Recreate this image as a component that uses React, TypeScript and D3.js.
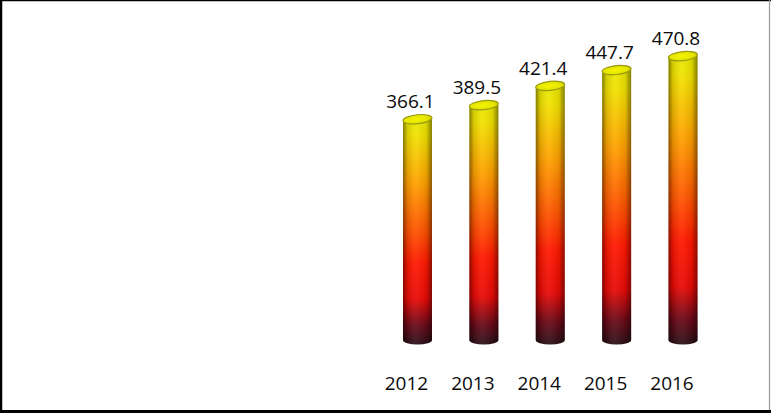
import React from "react";
import * as d3 from "d3";

const years = ["2012", "2013", "2014", "2015", "2016"];
const values = [366.1, 389.5, 421.4, 447.7, 470.8];

const W = 771;
const H = 413;

export default function App() {
  const x = d3.scalePoint<string>().domain(years).range([384.3, 716.2]).padding(0.5);
  const y = d3.scaleLinear().domain([0, 500]).range([340, 38.5]);
  const bw = 29;
  const ry = 4.5;
  const font = "'Open Sans', 'Noto Sans', sans-serif";
  return (
    <svg width={W} height={H} style={{ position: "fixed", left: 0, top: 0, background: "#fff" }}>
      <defs>
        <linearGradient id="vg" x1="0" y1="0" x2="0" y2="1">
          <stop offset="0" stopColor="#e8e800" />
          <stop offset="0.07" stopColor="#f2e200" />
          <stop offset="0.28" stopColor="#ffa200" />
          <stop offset="0.5" stopColor="#ff5200" />
          <stop offset="0.64" stopColor="#ff1800" />
          <stop offset="0.8" stopColor="#e80a06" />
          <stop offset="0.91" stopColor="#6e0a18" />
          <stop offset="1" stopColor="#2a1018" />
        </linearGradient>
        <linearGradient id="hg" x1="0" y1="0" x2="1" y2="0">
          <stop offset="0" stopColor="#000" stopOpacity="0.45" />
          <stop offset="0.15" stopColor="#000" stopOpacity="0.12" />
          <stop offset="0.45" stopColor="#fff" stopOpacity="0.06" />
          <stop offset="0.8" stopColor="#000" stopOpacity="0.08" />
          <stop offset="1" stopColor="#000" stopOpacity="0.45" />
        </linearGradient>
        <radialGradient id="tg" cx="0.45" cy="0.5" r="0.6">
          <stop offset="0" stopColor="#f4f400" />
          <stop offset="0.7" stopColor="#e4e400" />
          <stop offset="1" stopColor="#b8b800" />
        </radialGradient>
      </defs>
      {years.map((yr, i) => {
        const cx = x(yr) as number;
        const top = y(values[i]);
        const base = y(0);
        const x0 = cx - bw / 2;
        const body = `M${x0},${top} L${x0},${base} A${bw / 2},${ry} 0 0 0 ${x0 + bw},${base} L${x0 + bw},${top} Z`;
        return (
          <g key={yr}>
            <path d={body} fill="url(#vg)" />
            <path d={body} fill="url(#hg)" />
            <ellipse
              cx={cx}
              cy={top}
              rx={bw / 2}
              ry={ry}
              fill="url(#tg)"
              stroke="#9c9a10"
              strokeWidth={1.2}
              transform={`rotate(-6 ${cx} ${top})`}
            />
            <text
              x={cx - 7}
              y={top - 11}
              textAnchor="middle"
              fontFamily={font}
              fontSize={19}
              fill="#0a0a0a"
            >
              {values[i].toFixed(1)}
            </text>
            <text
              x={cx - 11}
              y={390}
              textAnchor="middle"
              fontFamily={font}
              fontSize={19}
              fill="#0a0a0a"
            >
              {yr}
            </text>
          </g>
        );
      })}
      <line x1={0} y1={0.5} x2={W} y2={0.5} stroke="#000" strokeWidth={1.5} />
      <line x1={1} y1={0} x2={1} y2={H} stroke="#000" strokeWidth={2.5} />
      <line x1={769.5} y1={0} x2={769.5} y2={H} stroke="#999" strokeWidth={1.2} />
      <line x1={0} y1={411.5} x2={W} y2={411.5} stroke="#000" strokeWidth={3} />
    </svg>
  );
}
